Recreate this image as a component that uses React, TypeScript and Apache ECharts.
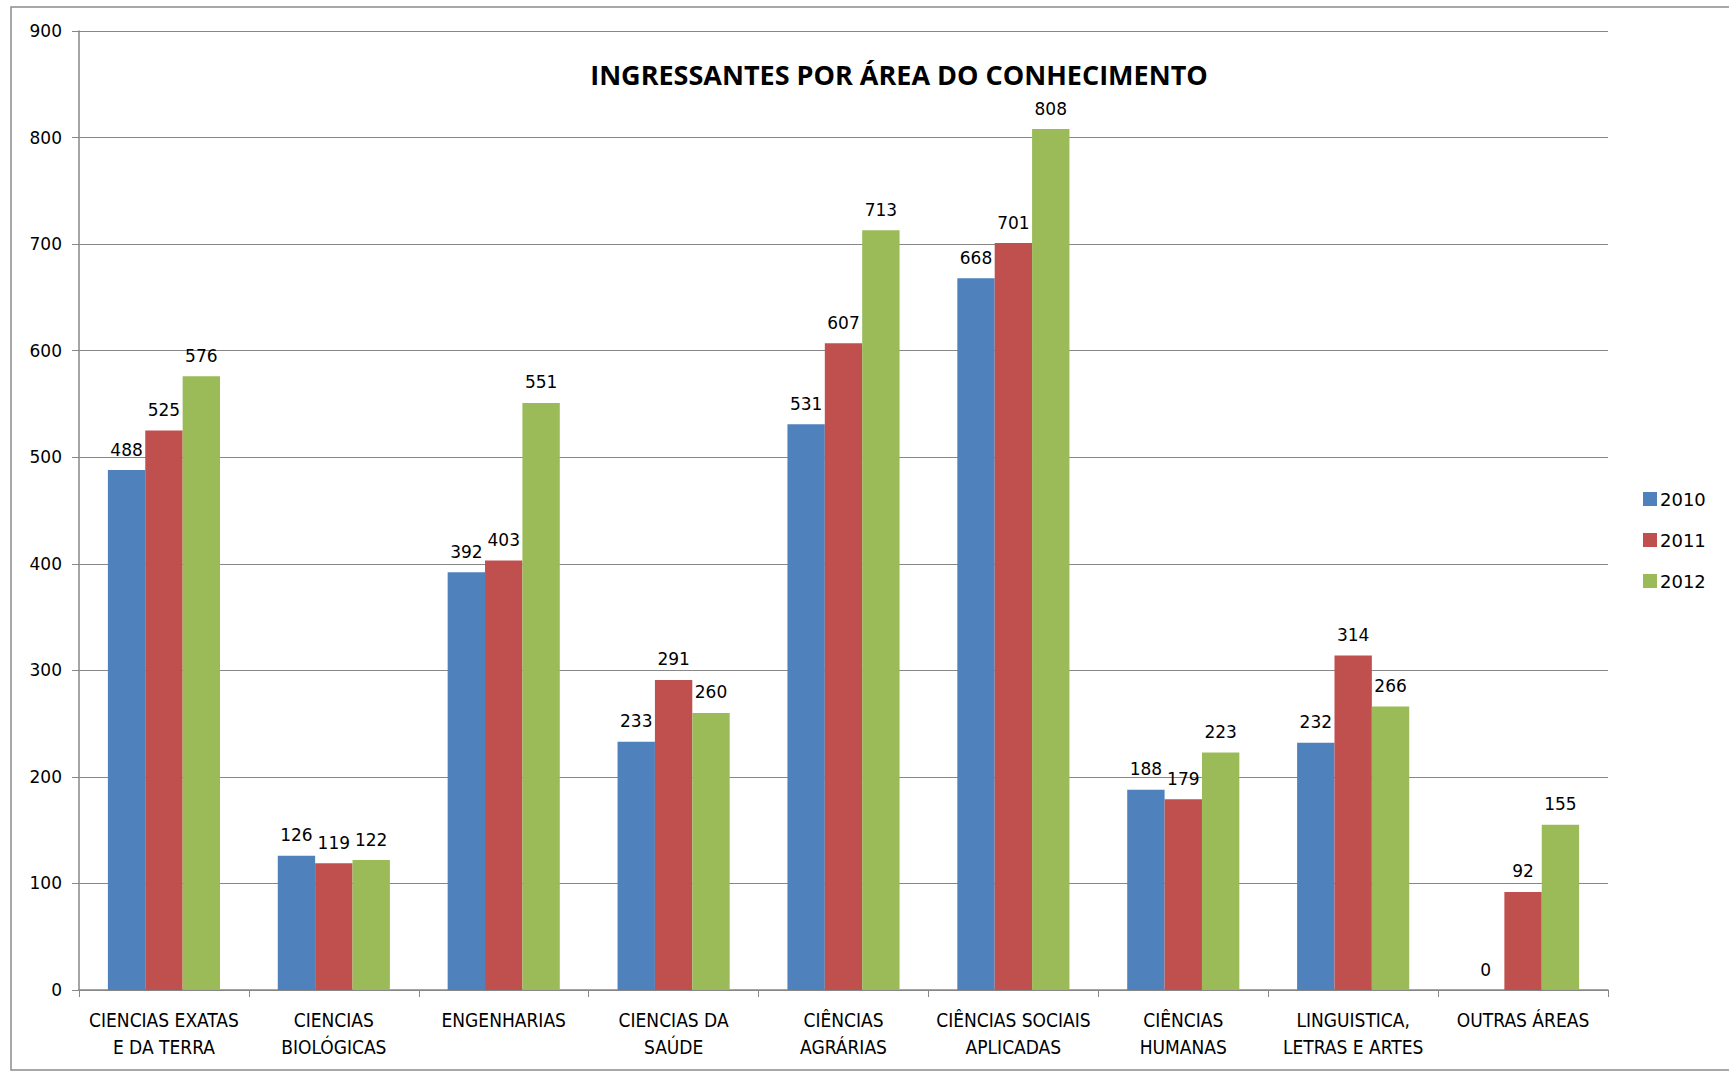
import React, { useEffect, useRef } from "react";
import * as echarts from "echarts";

const categories = [
  "CIENCIAS EXATAS\nE DA TERRA",
  "CIENCIAS\nBIOLÓGICAS",
  "ENGENHARIAS",
  "CIENCIAS DA\nSAÚDE",
  "CIÊNCIAS\nAGRÁRIAS",
  "CIÊNCIAS SOCIAIS\nAPLICADAS",
  "CIÊNCIAS\nHUMANAS",
  "LINGUISTICA,\nLETRAS E ARTES",
  "OUTRAS ÁREAS",
];
const years = ["2010", "2011", "2012"];
const values2010 = [488, 126, 392, 233, 531, 668, 188, 232, 0];
const values2011 = [525, 119, 403, 291, 607, 701, 179, 314, 92];
const values2012 = [576, 122, 551, 260, 713, 808, 223, 266, 155];
const colors = ["#4F81BD", "#C0504D", "#9BBB59"];
const titleText = "INGRESSANTES POR ÁREA DO CONHECIMENTO";

export default function App() {
  const ref = useRef<HTMLDivElement>(null);
  useEffect(() => {
    document.body.style.margin = "0";
    const chart = echarts.init(ref.current!, undefined, { renderer: "svg" });
    const seriesValues = [values2010, values2011, values2012];
    const gridColor = "#878787";
    chart.setOption({
      animation: false,
      backgroundColor: "#ffffff",
      color: colors,
      graphic: [
        {
          type: "rect",
          shape: { x: 11, y: 7, width: 1730, height: 1063 },
          style: { fill: "none", stroke: "#8c8c8c", lineWidth: 1.5 },
          silent: true,
          z: -1,
        },
        {
          type: "text",
          x: 899,
          y: 74,
          style: {
            text: titleText,
            fontFamily: "Open Sans",
            fontWeight: "bold",
            fontSize: 27,
            fill: "#000",
            textAlign: "center",
            textVerticalAlign: "middle",
          },
        },
      ],
      legend: {
        orient: "vertical",
        left: 1638,
        top: 485,
        itemWidth: 14,
        itemHeight: 14,
        itemGap: 23,
        icon: "rect",
        textStyle: { fontFamily: "DejaVu Sans", fontSize: 18, color: "#000", padding: [0, 0, 0, -2] },
        data: years,
      },
      grid: { left: 79, right: 121, top: 31, bottom: 82, containLabel: false },
      xAxis: {
        type: "category",
        data: categories,
        axisLine: { lineStyle: { color: gridColor, width: 1.5 } },
        axisTick: { show: true, length: 7, lineStyle: { color: gridColor } },
        axisLabel: {
          interval: 0,
          fontFamily: "Liberation Sans Narrow, DejaVu Sans Condensed, sans-serif",
          fontSize: 19,
          lineHeight: 27,
          color: "#000",
          margin: 16,
        },
      },
      yAxis: {
        type: "value",
        min: 0,
        max: 900,
        interval: 100,
        axisLine: { show: true, lineStyle: { color: gridColor, width: 1.5 } },
        axisTick: { show: true, length: 7, lineStyle: { color: gridColor } },
        splitLine: { lineStyle: { color: gridColor, width: 1.2 } },
        axisLabel: { fontFamily: "DejaVu Sans", fontSize: 17, color: "#000", margin: 17 },
      },
      series: years.map((y, i) => ({
        name: y,
        type: "bar",
        data: seriesValues[i],
        barGap: "0%",
        barCategoryGap: "34%",
        itemStyle: { color: colors[i] },
        label: {
          show: true,
          position: "top",
          distance: 12,
          fontFamily: "DejaVu Sans",
          fontSize: 17,
          color: "#000",
        },
      })),
    });
    return () => chart.dispose();
  }, []);
  return <div ref={ref} style={{ width: 1729, height: 1072 }} />;
}
